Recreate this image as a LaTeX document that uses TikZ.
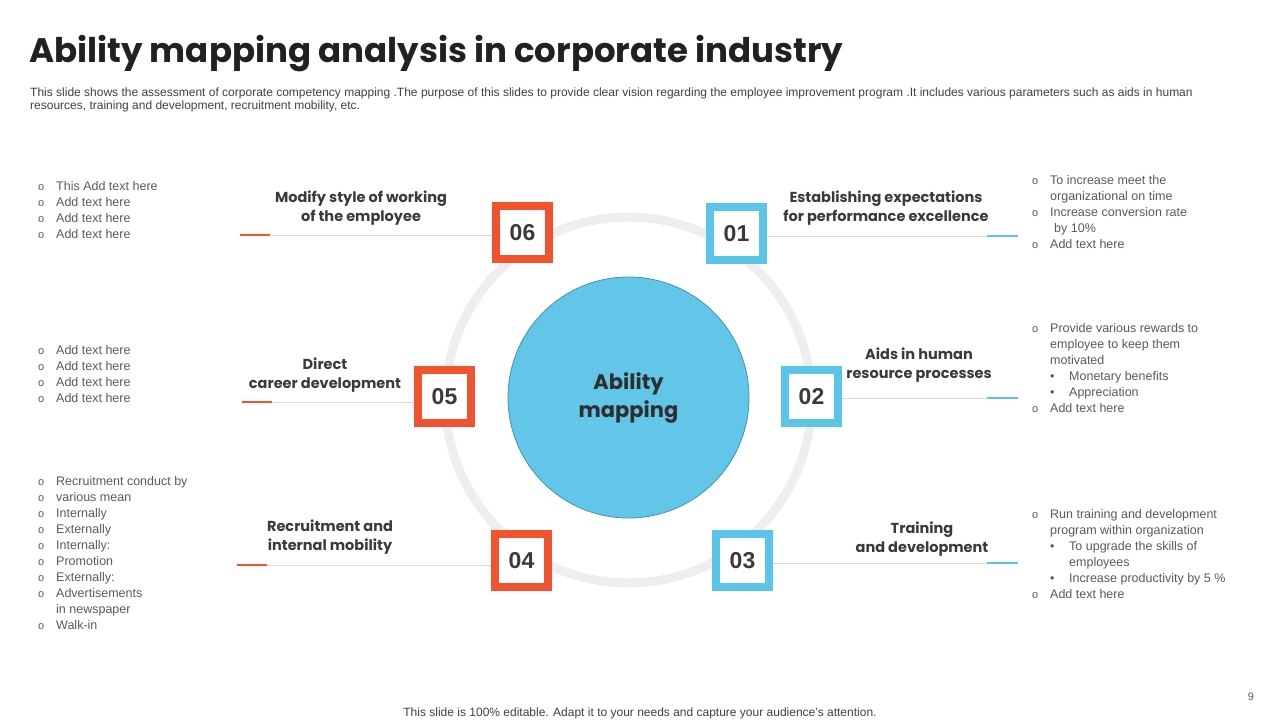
\documentclass[tikz,border=0pt]{standalone}
\usepackage{fontspec}
\setmainfont{Liberation Sans}
\newfontfamily\headfont{Poppins}
\definecolor{orangeA}{HTML}{F1532E}
\definecolor{blueA}{HTML}{5BC5E8}
\definecolor{circfill}{HTML}{62C6E9}
\definecolor{circline}{HTML}{4192B6}
\definecolor{ringgray}{HTML}{EEEEEE}
\definecolor{linegray}{HTML}{D9D9D9}
\definecolor{textgray}{HTML}{595959}
\definecolor{labelgray}{HTML}{3A3A3A}
\newcommand{\ob}{\makebox[18pt][l]{\fontsize{11}{11}\selectfont o}}
\newcommand{\db}{\makebox[19pt][l]{\textbullet}}
\newcommand{\indl}{\hspace*{18pt}}

\begin{document}
\begin{tikzpicture}[
  x=1pt, y=-1pt,
  numbox/.style={draw, line width=8pt, fill=white, minimum size=53pt, inner sep=0pt,
    font=\fontsize{23}{23}\selectfont\bfseries, text=labelgray},
  orangebox/.style={numbox, draw=orangeA},
  bluebox/.style={numbox, draw=blueA},
  steplabel/.style={align=center, inner sep=0pt, text=labelgray,
    font=\headfont\bfseries\fontsize{14.5}{19}\selectfont},
  bullets/.style={anchor=north west, align=left, inner sep=0pt, text=textgray,
    font=\fontsize{12.5}{16}\selectfont},
  link/.style={draw=linegray, line width=1pt},
  tickO/.style={draw=orangeA, line width=2pt},
  tickB/.style={draw=blueA, line width=2pt}
]
\useasboundingbox (0,0) rectangle (1280,720);

% Title and intro text
\node[anchor=base west, inner sep=0pt, text=black!87, font=\headfont\bfseries\fontsize{34}{34}\selectfont]
  (title) at (29,62) {Ability mapping analysis in corporate industry};
\node[anchor=north west, align=left, inner sep=0pt, text=black!75, font=\fontsize{12}{13}\selectfont]
  (intro) at (30,87.5) {This slide shows the assessment of corporate competency mapping .The purpose of this slides to provide clear vision regarding the employee improvement program .It includes various parameters such as aids in human\\resources, training and development, recruitment mobility, etc.};

% Ring and centre circle
\draw[ringgray, line width=9pt] (628.5,400) circle[radius=183];
\node[circle, fill=circfill, draw=circline, line width=0.8pt, minimum size=241pt, align=center,
  font=\headfont\bfseries\fontsize{21}{28}\selectfont, text=labelgray!80!black] (core) at (628.5,397.5) {Ability\\mapping};

% Number boxes
\node[orangebox] (n06) at (522.5,232.5) {06};
\node[bluebox]   (n01) at (736.5,233.5) {01};
\node[orangebox] (n05) at (444.5,396.5) {05};
\node[bluebox]   (n02) at (811.5,396.5) {02};
\node[orangebox] (n04) at (521.5,560.5) {04};
\node[bluebox]   (n03) at (742.5,560.5) {03};

% Connector lines with coloured ends
\coordinate (e06) at (240,235);
\coordinate (e05) at (242,402);
\coordinate (e04) at (237,565);
\coordinate (e01) at (1018,236);
\coordinate (e02) at (1018,398);
\coordinate (e03) at (1018,563);
\foreach \k in {06,05,04}{
  \draw[link] (e\k) -- (e\k -| n\k.west);
  \draw[tickO] (e\k) -- ++(30,0);
}
\foreach \k in {01,02,03}{
  \draw[link] (e\k -| n\k.east) -- (e\k);
  \draw[tickB] (e\k) -- ++(-31,0);
}

% Step labels
\node[steplabel] (l06) at (361,208.5) {Modify style of working\\of the employee};
\node[steplabel] (l01) at (886,208.5) {Establishing expectations\\for performance excellence};
\node[steplabel] (l05) at (325,375.5) {Direct\\career development};
\node[steplabel] (l02) at (919,365.5) {Aids in human\\resource processes};
\node[steplabel] (l04) at (330,537.5) {Recruitment and\\internal mobility};
\node[steplabel] (l03) at (922,539.5) {Training\\and development};

% Left lists
\node[bullets] (b06) at (38,181) {\ob This Add text here\\\ob Add text here\\\ob Add text here\\\ob Add text here};
\node[bullets] (b05) at (38,345) {\ob Add text here\\\ob Add text here\\\ob Add text here\\\ob Add text here};
\node[bullets] (b04) at (38,476) {\ob Recruitment conduct by\\\ob various mean\\\ob Internally\\\ob Externally\\\ob Internally:\\\ob Promotion\\\ob Externally:\\\ob Advertisements\\\indl in newspaper\\\ob Walk-in};

% Right lists
\node[bullets] (b01) at (1032,175) {\ob To increase meet the\\\indl organizational on time\\\ob Increase conversion rate\\\indl\hspace*{4pt}by 10\%\\\ob Add text here};
\node[bullets] (b02) at (1032,323) {\ob Provide various rewards to\\\indl employee to keep them\\\indl motivated\\\indl\db Monetary benefits\\\indl\db Appreciation\\\ob Add text here};
\node[bullets] (b03) at (1032,509) {\ob Run training and development\\\indl program within organization\\\indl\db To upgrade the skills of\\\indl\hspace*{19pt}employees\\\indl\db Increase productivity by 5 \%\\\ob Add text here};

% Footer
\node[inner sep=0pt, text=black!75, font=\fontsize{12}{13}\selectfont] (foot) at (640,713)
  {This slide is 100\% editable. Adapt it to your needs and capture your audience’s attention.};
\node[inner sep=0pt, text=textgray, font=\fontsize{11}{13}\selectfont] (page) at (1251,697) {9};
\end{tikzpicture}
\end{document}
